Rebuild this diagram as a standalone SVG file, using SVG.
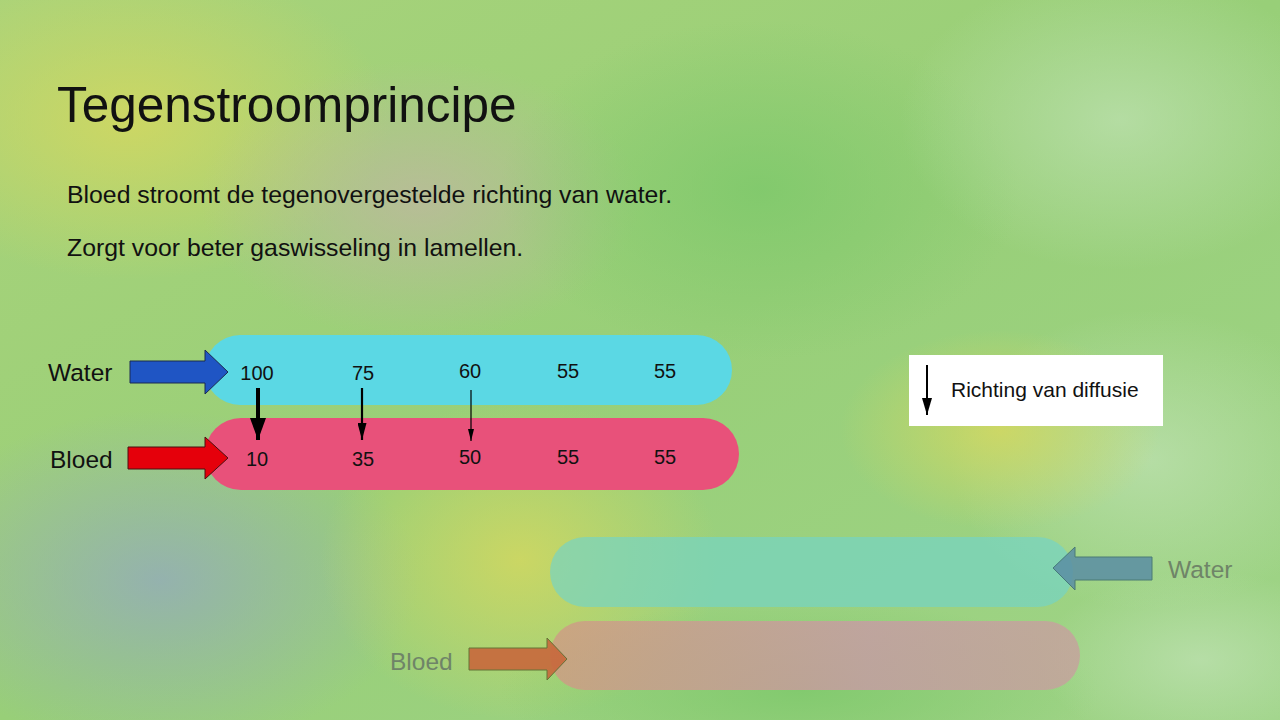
<svg xmlns="http://www.w3.org/2000/svg" width="1280" height="720" viewBox="0 0 1280 720">
<defs>
<style>
.t{font-family:"Liberation Sans",Arial,sans-serif;fill:#111}
.num{font-family:"Liberation Sans",Arial,sans-serif;font-size:20px;fill:#111;text-anchor:middle}
.lbl{font-family:"Liberation Sans",Arial,sans-serif;font-size:24.5px;fill:#111}
.faint{font-family:"Liberation Sans",Arial,sans-serif;font-size:24.5px;fill:#6f8468}
</style>
<linearGradient id="bg" x1="0" y1="0" x2="1" y2="1">
<stop offset="0" stop-color="#a9d37a"/>
<stop offset="0.5" stop-color="#98cf78"/>
<stop offset="1" stop-color="#9fd488"/>
</linearGradient>
<radialGradient id="y1"><stop offset="0" stop-color="#d7d85e" stop-opacity="0.8"/><stop offset="1" stop-color="#d7d85e" stop-opacity="0"/></radialGradient>
<radialGradient id="p1"><stop offset="0" stop-color="#c2b4a4" stop-opacity="0.7"/><stop offset="1" stop-color="#c2b4a4" stop-opacity="0"/></radialGradient>
<radialGradient id="b1"><stop offset="0" stop-color="#93a8c0" stop-opacity="0.75"/><stop offset="1" stop-color="#93a8c0" stop-opacity="0"/></radialGradient>
<radialGradient id="g1"><stop offset="0" stop-color="#7cc86a" stop-opacity="0.8"/><stop offset="1" stop-color="#7cc86a" stop-opacity="0"/></radialGradient>
<radialGradient id="w1"><stop offset="0" stop-color="#c0e2b4" stop-opacity="0.7"/><stop offset="1" stop-color="#c0e2b4" stop-opacity="0"/></radialGradient>
<linearGradient id="fadedPink" x1="0" y1="0" x2="1" y2="0">
<stop offset="0" stop-color="#cf9a84"/>
<stop offset="0.6" stop-color="#c99aa6"/>
<stop offset="1" stop-color="#c7a09e"/>
</linearGradient>
<marker id="ahL" viewBox="0 0 22 16" refX="22" refY="8" markerWidth="22" markerHeight="16" orient="auto" markerUnits="userSpaceOnUse">
<path d="M0,0 L22,8 L0,16 Z" fill="#000"/>
</marker>
<marker id="ahM" viewBox="0 0 17 9" refX="17" refY="4.5" markerWidth="17" markerHeight="9" orient="auto" markerUnits="userSpaceOnUse">
<path d="M0,0 L17,4.5 L0,9 Z" fill="#000"/>
</marker>
<marker id="ahS" viewBox="0 0 12 6" refX="12" refY="3" markerWidth="12" markerHeight="6" orient="auto" markerUnits="userSpaceOnUse">
<path d="M0,0 L12,3 L0,6 Z" fill="#000"/>
</marker>
<marker id="ahG" viewBox="0 0 17 10" refX="17" refY="5" markerWidth="17" markerHeight="10" orient="auto" markerUnits="userSpaceOnUse">
<path d="M0,0 L17,5 L0,10 Z" fill="#000"/>
</marker>
</defs>
<g id="background">
<rect width="1280" height="720" fill="url(#bg)"/>
<ellipse cx="130" cy="120" rx="260" ry="160" fill="url(#y1)"/>
<ellipse cx="420" cy="200" rx="220" ry="140" fill="url(#p1)"/>
<ellipse cx="160" cy="580" rx="260" ry="170" fill="url(#b1)"/>
<ellipse cx="520" cy="560" rx="200" ry="160" fill="url(#y1)"/>
<ellipse cx="760" cy="190" rx="260" ry="170" fill="url(#g1)"/>
<ellipse cx="1120" cy="120" rx="220" ry="150" fill="url(#w1)"/>
<ellipse cx="1150" cy="460" rx="200" ry="150" fill="url(#w1)"/>
<ellipse cx="1000" cy="430" rx="160" ry="100" fill="url(#y1)"/>
<ellipse cx="800" cy="690" rx="300" ry="90" fill="url(#g1)"/>
<ellipse cx="1200" cy="660" rx="160" ry="90" fill="url(#w1)"/>
</g>
<g id="title">
<text class="t" x="57" y="122" font-size="49.5">Tegenstroomprincipe</text>
<text class="t" x="67" y="203" font-size="24.8">Bloed stroomt de tegenovergestelde richting van water.</text>
<text class="t" x="67" y="256" font-size="24.8">Zorgt voor beter gaswisseling in lamellen.</text>
</g>
<g id="water-bar">
<rect x="205" y="335" width="527" height="70" rx="35" fill="#5bd8e4"/>
<text class="num" x="257" y="380">100</text>
<text class="num" x="363" y="380">75</text>
<text class="num" x="470" y="378">60</text>
<text class="num" x="568" y="378">55</text>
<text class="num" x="665" y="378">55</text>
</g>
<g id="blood-bar">
<rect x="205" y="418" width="534" height="72" rx="36" fill="#e8517a"/>
<text class="num" x="257" y="466">10</text>
<text class="num" x="363" y="466">35</text>
<text class="num" x="470" y="464">50</text>
<text class="num" x="568" y="464">55</text>
<text class="num" x="665" y="464">55</text>
</g>
<g id="water-in">
<text class="lbl" x="48" y="381">Water</text>
<path d="M130,361 H205 V350 L228,372 L205,394 V383 H130 Z" fill="#1f55c4" stroke="#1a2a50" stroke-width="1"/>
</g>
<g id="blood-in">
<text class="lbl" x="50" y="468">Bloed</text>
<path d="M128,447 H205 V437 L228,458 L205,479 V469 H128 Z" fill="#e5000b" stroke="#4a1010" stroke-width="1"/>
</g>
<g id="connectors" stroke="#000" fill="none">
<line x1="258" y1="388" x2="258" y2="440" stroke-width="4" marker-end="url(#ahL)"/>
<line x1="362" y1="388" x2="362" y2="440" stroke-width="2.2" marker-end="url(#ahM)"/>
<line x1="471" y1="390" x2="471" y2="441" stroke-width="1.2" marker-end="url(#ahS)"/>
</g>
<g id="legend">
<rect x="909" y="355" width="254" height="71" fill="#ffffff"/>
<line x1="927" y1="365" x2="927" y2="415" stroke="#000" stroke-width="2" marker-end="url(#ahG)"/>
<text class="t" x="951" y="397" font-size="21">Richting van diffusie</text>
</g>
<g id="faded-water">
<rect x="550" y="537" width="523" height="70" rx="35" fill="#72d4ca" opacity="0.65"/>
<path d="M1152,557 H1075 V547 L1053,568 L1075,590 V580 H1152 Z" fill="#5b8ea4" stroke="#3c6a70" stroke-width="1" opacity="0.85"/>
<text class="faint" x="1168" y="578">Water</text>
</g>
<g id="faded-blood">
<rect x="550" y="621" width="530" height="69" rx="34.5" fill="url(#fadedPink)" opacity="0.8"/>
<path d="M469,648 H547 V638 L567,659 L547,680 V670 H469 Z" fill="#c8683c" stroke="#5c6a30" stroke-width="1" opacity="0.9"/>
<text class="faint" x="390" y="670">Bloed</text>
</g>
</svg>
